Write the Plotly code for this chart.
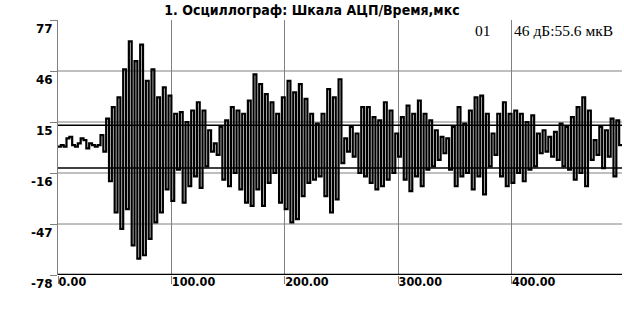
import plotly.graph_objects as go

# ---- data ----
SAMPLE_US = 2.5          # time step between samples, µs
THRESHOLD = 13           # detection threshold, ADC units
amp = [
    0, 1, 0, 5, 6, 1, 0, 2, 5, 4, -1, 2, 1, 0, 1, 7, -3,
    17, -21, 24, -40, 30, -50, 47, -38, 64, -60, 52, -68, 62, -66, 40, -56, 47, -46, 30, -40,
    36, -26, 31, -33, 20, -14, 21, -34, 15, -24, 22, -18, 27, -25, 22,
    -12, 10, -3, 2, -5, 12,
    -20, 16, -24, 24, -16, 22, -26, 20,
    -34, 28, -36, 44, -26, 38, -36, 32,
    -22, 27, -16, 20,
    -34, 30, -38,
    40, -46, 33, -44, 38,
    -30, 29, -22, 20,
    -20, 14, -18, 20,
    -30, 35, -40, 30, -32, 41,
    -10, 5, -3, 12, -6, 8,
    -16, 24, -18, 24, -22, 18, -26, 16, -24, 27, -20, 22, -16,
    8, -6,
    18, -20, 25, -27, 20, -18, 28, -24,
    20, -14, 16, -12, 10, -8,
    6, -4, 5,
    -14, 12, -24, 24, -18, 14, -16,
    22, -26, 30, -18, 31, -29, 20,
    -12, 8, -5,
    20, -18, 27, -24, 20, -22,
    22, -16, 20, -21, 15, -14, 19, -12,
    8, -4, 10, -3, 6, -6, 9, -8,
    14, -12, 12, -14, 18, -20, 24, -16, 30, -24, 22,
    -8, 4, -5,
    12, -13, 10, -6, 17, -18, 16,
    1, 1,
]
t_us = [i * SAMPLE_US for i in range(len(amp))]

x_ticks = [0, 100, 200, 300, 400]
x_tick_text = ["0.00", "100.00", "200.00", "300.00", "400.00"]
y_ticks = [77, 46, 15, -16, -47, -78]
y_grid = [46, 15, -16, -47]
X_MAX = 497.5
Y_MIN, Y_MAX = -78, 77

title_text = "1. Осциллограф: Шкала АЦП/Время,мкс"
channel_text = "01"
gain_text = "46 дБ:55.6 мкВ"

GRID = "#808080"
FONT_BOLD = "DejaVu Sans Condensed, DejaVu Sans, sans-serif"

fig = go.Figure()
fig.add_trace(go.Scatter(
    x=t_us, y=amp, mode="lines",
    line=dict(color="black", width=2.2, shape="hv"),
    hoverinfo="skip", showlegend=False,
))

shapes = []
for g in y_grid:
    shapes.append(dict(type="line", xref="paper", yref="y", x0=0, x1=1, y0=g, y1=g,
                       line=dict(color=GRID, width=1), layer="below"))
for th in (THRESHOLD, -THRESHOLD):
    shapes.append(dict(type="line", xref="paper", yref="y", x0=0, x1=1, y0=th, y1=th,
                       line=dict(color="black", width=1.5), layer="above"))
# thick bottom axis line
shapes.append(dict(type="line", xref="paper", yref="y", x0=0, x1=1, y0=Y_MIN, y1=Y_MIN,
                   line=dict(color="black", width=2.5), layer="above"))

fig.update_layout(
    width=624, height=323,
    margin=dict(l=58, r=2, t=20, b=48),
    paper_bgcolor="white", plot_bgcolor="white",
    shapes=shapes,
    title=dict(text=title_text, x=0.5, xanchor="center", y=1 - 10 / 323, yanchor="middle",
               yref="container",
               font=dict(family=FONT_BOLD, size=14, color="black", weight="bold")),
    xaxis=dict(
        range=[0, X_MAX], tickmode="array", tickvals=x_ticks, ticktext=x_tick_text,
        showgrid=True, gridcolor=GRID, gridwidth=1, zeroline=False,
        showline=False, ticks="outside", ticklen=8, tickcolor=GRID, tickwidth=1,
        ticklabelposition="outside right", ticklabelstandoff=-5,
        tickfont=dict(family=FONT_BOLD, size=12.5, color="black", weight="bold"),
    ),
    yaxis=dict(
        range=[Y_MIN, Y_MAX], tickmode="array", tickvals=y_ticks,
        ticktext=[str(v) for v in y_ticks],
        showgrid=False, zeroline=False,
        showline=True, linecolor=GRID, linewidth=1,
        ticks="outside", ticklen=7, tickcolor=GRID, tickwidth=1,
        ticklabelposition="outside bottom", ticklabelstandoff=2,
        tickfont=dict(family="DejaVu Sans, sans-serif", size=12, color="black", weight="bold"),
    ),
    annotations=[
        dict(text=channel_text, x=400, xref="x", xanchor="right", xshift=-18,
             y=1, yref="paper", yanchor="top", yshift=0, showarrow=False,
             font=dict(family="Liberation Serif, serif", size=15.5, color="black")),
        dict(text=gain_text, x=400, xref="x", xanchor="left", xshift=1,
             y=1, yref="paper", yanchor="top", yshift=0, showarrow=False,
             font=dict(family="Liberation Serif, serif", size=15.5, color="black")),
    ],
)

fig.write_html("out.html")
